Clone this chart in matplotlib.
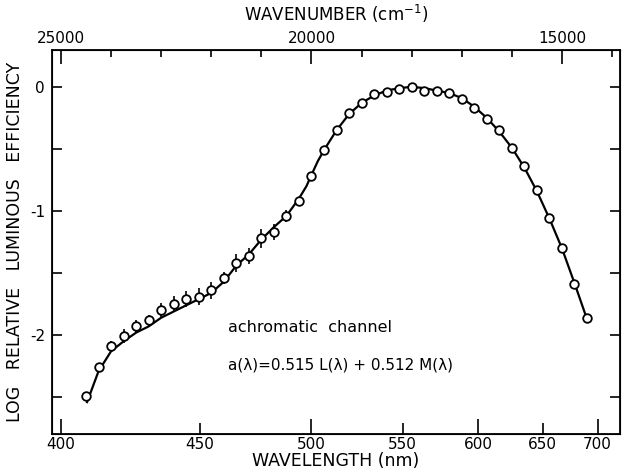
import numpy as np
import matplotlib
matplotlib.use("Agg")
import matplotlib.pyplot as plt

plt.rcParams['font.family'] = 'DejaVu Sans'
plt.rcParams['axes.unicode_minus'] = False

# measured points (wavenumber in cm-1, log relative luminous efficiency)
wavenumber = [24500, 24250, 24000, 23750, 23500, 23250, 23000, 22750, 22500,
              22250, 22000, 21750, 21500, 21250, 21000, 20750, 20500, 20250,
              20000, 19750, 19500, 19250, 19000, 18750, 18500, 18250, 18000,
              17750, 17500, 17250, 17000, 16750, 16500, 16250, 16000, 15750,
              15500, 15250, 15000, 14750, 14500]
log_eff = [-2.49, -2.26, -2.09, -2.01, -1.93, -1.88, -1.80, -1.75, -1.71,
           -1.69, -1.64, -1.54, -1.42, -1.36, -1.22, -1.17, -1.04, -0.92,
           -0.72, -0.51, -0.35, -0.21, -0.13, -0.06, -0.04, -0.02, 0.00,
           -0.03, -0.03, -0.05, -0.10, -0.17, -0.26, -0.35, -0.49, -0.64,
           -0.83, -1.06, -1.30, -1.59, -1.86]
err = [0, 0, 0.045, 0.055, 0.055, 0.045, 0.06, 0.065, 0.065,
       0.07, 0.07, 0.05, 0.075, 0.065, 0.075, 0.065, 0.045, 0,
       0, 0, 0, 0, 0, 0, 0, 0, 0,
       0, 0, 0, 0, 0, 0, 0, 0, 0,
       0, 0, 0, 0, 0]

# achromatic channel curve a(lambda)
curve_wn = [24480, 24250, 24000, 23750, 23500, 23250, 23000, 22750, 22500,
            22250, 22000, 21750, 21500, 21250, 21000, 20750, 20500, 20250,
            20100, 20000, 19875, 19750, 19500, 19250, 19000, 18750, 18500,
            18250, 18000, 17750, 17500, 17250, 17000, 16750, 16500, 16250,
            16000, 15750, 15500, 15250, 15000, 14750, 14500]
curve_val = [-2.54, -2.29, -2.13, -2.05, -1.98, -1.93, -1.86, -1.81, -1.76,
             -1.71, -1.66, -1.57, -1.44, -1.35, -1.23, -1.13, -1.04, -0.90,
             -0.80, -0.71, -0.60, -0.51, -0.35, -0.22, -0.13, -0.07, -0.03,
             -0.01, 0.00, -0.01, -0.03, -0.05, -0.09, -0.16, -0.25, -0.36,
             -0.49, -0.65, -0.84, -1.06, -1.30, -1.58, -1.87]

wl_ticks = [400, 450, 500, 550, 600, 650, 700]
wn_major = [25000, 20000, 15000]
wn_minor = [24000, 23000, 22000, 21000, 19000, 18000, 17000, 16000, 14000]
y_major = [0, -1, -2]
y_minor = [-0.5, -1.5, -2.5]

fig = plt.figure(figsize=(6.22, 4.75), dpi=100)
ax = fig.add_axes([52/622, 1 - 434/475, 568/622, 384/475])

ax.plot(curve_wn, curve_val, color='black', lw=1.6, zorder=2)

wn = np.array(wavenumber)
ye = np.array(err)
m = ye > 0
ax.errorbar(wn[m], np.array(log_eff)[m], yerr=ye[m], fmt='none',
            ecolor='black', elinewidth=1.2, capsize=0, zorder=3)
ax.plot(wavenumber, log_eff, 'o', ms=6.2, mfc='white', mec='black',
        mew=1.3, zorder=4)

ax.set_xlim(25180, 13840)
ax.set_ylim(-2.797, 0.297)

# bottom: wavelength ticks
ax.set_xticks([1e7 / w for w in wl_ticks])
ax.set_xticklabels([str(w) for w in wl_ticks], fontsize=11)
ax.tick_params(axis='x', which='major', direction='in', length=8, width=1.2,
               pad=2)
for w, t in zip(wl_ticks, ax.xaxis.get_major_ticks()):
    if w % 100 == 0:
        t.tick1line.set_markersize(11)

ax.set_yticks(y_major)
ax.set_yticklabels([str(v) for v in y_major], fontsize=11)
ax.set_yticks(y_minor, minor=True)
ax.tick_params(axis='y', which='both', direction='in', length=7.5, width=1.2,
               right=True, pad=5)
for s in ax.spines.values():
    s.set_linewidth(1.3)

ax.set_xlabel('WAVELENGTH (nm)', fontsize=12.5, labelpad=0)
ax.set_ylabel('LOG   RELATIVE   LUMINOUS   EFFICIENCY', fontsize=12.5,
              labelpad=4)

# top: wavenumber axis
top = ax.twiny()
top.set_xlim(ax.get_xlim())
top.set_xticks(wn_major)
top.set_xticklabels([str(v) for v in wn_major], fontsize=11)
top.set_xticks(wn_minor, minor=True)
top.tick_params(axis='x', which='major', direction='in', length=10, width=1.2,
                pad=3)
top.tick_params(axis='x', which='minor', direction='in', length=5, width=1.2)
top.set_xlabel('WAVENUMBER (cm$^{-1}$)', fontsize=12, labelpad=7)

ax.text(21660, -1.94, 'achromatic  channel', fontsize=11.5, ha='left',
        va='center')
ax.text(21660, -2.24, 'a(λ)=0.515 L(λ) + 0.512 M(λ)', fontsize=11,
        ha='left', va='center')

fig.savefig('out.png', dpi=100)
